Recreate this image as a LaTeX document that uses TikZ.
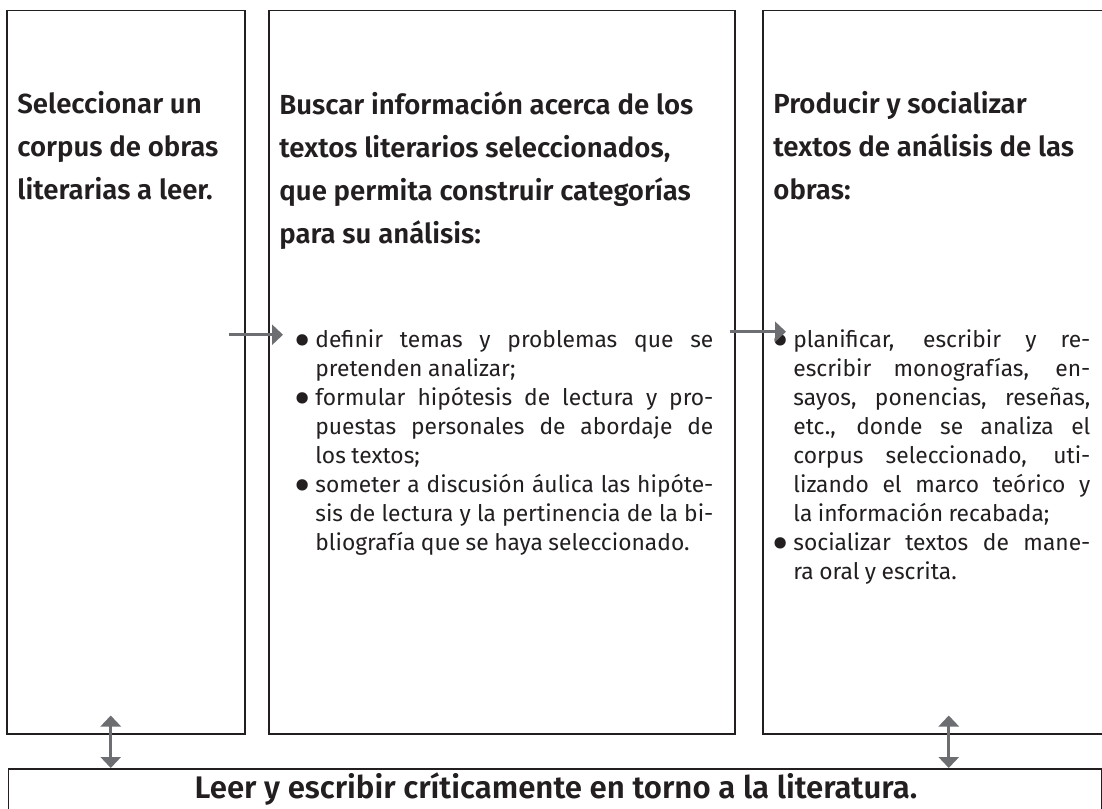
\documentclass[tikz,border=0pt]{standalone}
\usepackage{fontspec}
\setmainfont{Fira Sans}[BoldFont={Fira Sans SemiBold}]
\usetikzlibrary{arrows.meta}
\definecolor{tinta}{HTML}{231F20}
\definecolor{gris}{HTML}{6D6E71}
\tikzstyle{caja} = [draw=tinta, line width=0.75pt, rectangle, anchor=north west, inner sep=0pt]
\tikzstyle{titulo} = [anchor=north west, inner sep=0pt, align=left, text=tinta,
    font=\fontsize{13.8}{21.5}\selectfont\bfseries]
\tikzstyle{lista} = [anchor=north west, inner sep=0pt, align=justify, text=tinta,
    font=\fontsize{11.4}{14.5}\selectfont]
\tikzstyle{flecha} = [draw=gris, line width=1.5pt, -{Triangle[length=5.5pt,width=10pt]}]
\tikzstyle{doble} = [draw=gris, line width=1.5pt,
    {Triangle[length=5.5pt,width=10pt]}-{Triangle[length=5.5pt,width=10pt]}]
\newcommand\punto{\par\spaceskip=.24em plus .4em minus .1em\relax
    \hangindent=8.5pt\hangafter=1\noindent
    \makebox[8.5pt][l]{\hspace{-2pt}\raisebox{-0.45em}{\scalebox{2.2}{\textbullet}}}}

\begin{document}
\begin{tikzpicture}[x=0.5pt, y=-0.5pt]
    \useasboundingbox (0,0) rectangle (1102,808);
    % cajas
    \node[caja, minimum width=119pt, minimum height=361.5pt] (sel) at (6,10) {};
    \node[caja, minimum width=233pt, minimum height=361.5pt] (bus) at (268,10) {};
    \node[caja, minimum width=172pt, minimum height=361.5pt] (prod) at (762,10) {};
    \node[caja, minimum width=546.75pt, minimum height=30pt] (lee) at (7.5,768) {};
    % titulos
    \node[titulo] (tsel) at (17,91) {Seleccionar un\\corpus de obras\\literarias a leer.};
    \node[titulo] (tbus) at (279,91) {Buscar información acerca de los\\textos literarios seleccionados,\\que permita construir categorías\\para su análisis:};
    \node[titulo] (tprod) at (773,91) {Producir y socializar\\textos de análisis de las\\obras:};
    % listas
    \node[lista, text width=207.5pt] (lbus) at (298,318) {%
        \punto definir temas y problemas que se\linebreak pretenden analizar;
        \punto formular hipótesis de lectura y pro-\linebreak puestas personales de abordaje de\linebreak los textos;
        \punto someter a discusión áulica las hipóte-\linebreak sis de lectura y la pertinencia de la bi-\linebreak bliografía que se haya seleccionado.\par};
    \node[lista, text width=157pt] (lprod) at (776,318) {%
        \punto planificar, escribir y re-\linebreak escribir monografías, en-\linebreak sayos, ponencias, reseñas,\linebreak etc., donde se analiza el\linebreak corpus seleccionado, uti-\linebreak lizando el marco teórico y\linebreak la información recabada;
        \punto socializar textos de mane-\linebreak ra oral y escrita.\par};
    \node[text=tinta, font=\fontsize{15.6}{18}\selectfont\bfseries] (tlee) at (556,789)
        {Leer y escribir críticamente en torno a la literatura.};
    % flechas
    \draw[flecha] ([xshift=-8.5pt,yshift=18.75pt]sel.east) -- ([xshift=7.5pt,yshift=18.75pt]bus.west);
    \draw[flecha] ([xshift=-3pt,yshift=20.25pt]bus.east) -- ([xshift=12pt,yshift=20.25pt]prod.west);
    \draw[doble] ([xshift=-7.5pt,yshift=9.5pt]sel.south) -- ([xshift=-7.5pt]sel.south |- lee.north);
    \draw[doble] ([xshift=7pt,yshift=9.5pt]prod.south) -- ([xshift=7pt]prod.south |- lee.north);
\end{tikzpicture}
\end{document}
